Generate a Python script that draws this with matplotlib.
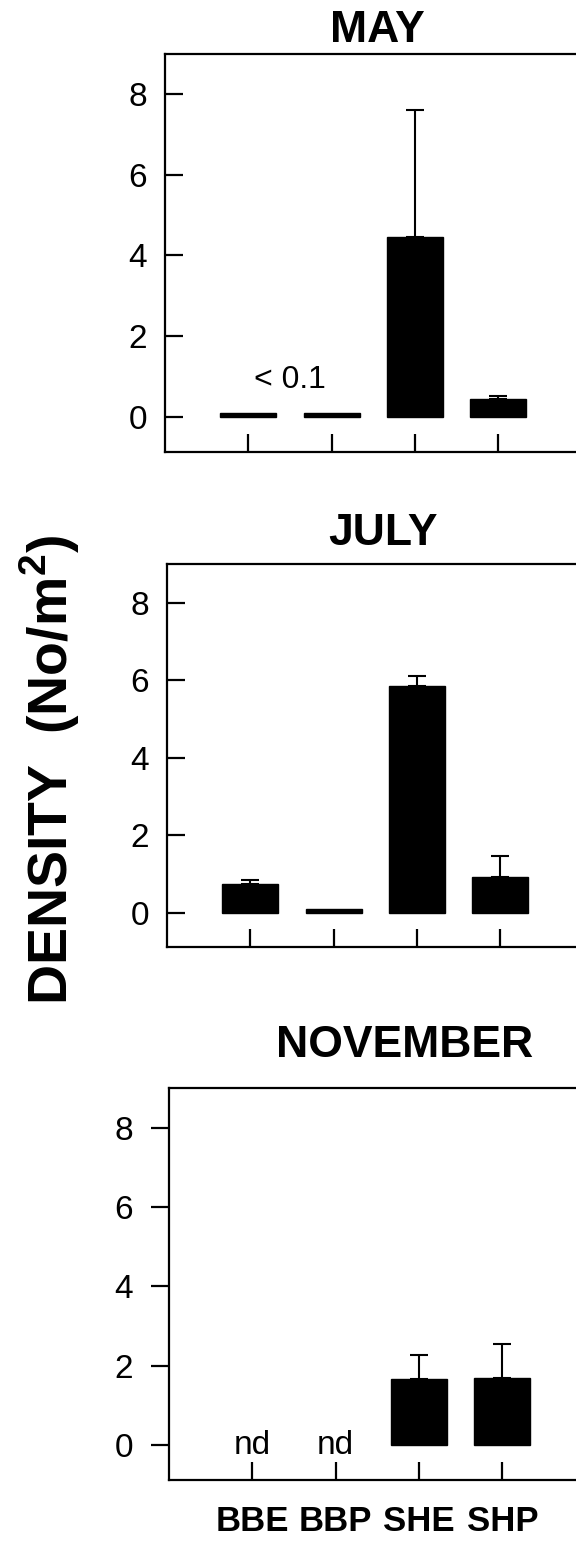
import numpy as np
import matplotlib
matplotlib.use("Agg")
import matplotlib.pyplot as plt

plt.rcParams['font.family'] = ['Liberation Sans', 'DejaVu Sans']
plt.rcParams['mathtext.fontset'] = 'custom'
plt.rcParams['mathtext.rm'] = 'Liberation Sans:bold'
plt.rcParams['mathtext.bf'] = 'Liberation Sans:bold'

# data
sites = ["BBE", "BBP", "SHE", "SHP"]
months = ["MAY", "JULY", "NOVEMBER"]

may_mean = [0.08, 0.08, 4.45, 0.43]
may_err = [0.0, 0.0, 3.15, 0.07]

july_mean = [0.75, 0.10, 5.85, 0.92]
july_err = [0.09, 0.0, 0.25, 0.54]

nov_mean = [np.nan, np.nan, 1.66, 1.69]
nov_err = [0.0, 0.0, 0.62, 0.85]

yticks = [0, 2, 4, 6, 8]

W, H = 576, 1543
fig = plt.figure(figsize=(W / 100, H / 100), dpi=100)


def px_axes(left, top, bottom, width=425):
    return [left / W, 1 - bottom / H, width / W, (bottom - top) / H]


# (left, top, bottom) in pixels, title x (axes frac), title gap px, ytick dir
panels = [
    ((165, 54, 452), 0.50, 12, "in"),
    ((167, 564, 947), 0.508, 19, "in"),
    ((169, 1088, 1480), 0.555, 31, "out"),
]
means = [may_mean, july_mean, nov_mean]
errs = [may_err, july_err, nov_err]

x = np.arange(len(sites))
axes = []
for i, ((l, t, b), tx, gap, ydir) in enumerate(panels):
    ax = fig.add_axes(px_axes(l, t, b))
    axes.append(ax)
    m = np.array(means[i], dtype=float)
    e = np.array(errs[i], dtype=float)
    ok = ~np.isnan(m)
    ax.bar(x[ok], m[ok], width=0.67, color="black", edgecolor="black")
    has_err = ok & (e > 0)
    ax.errorbar(x[has_err], m[has_err],
                yerr=[np.zeros(has_err.sum()), e[has_err]],
                fmt="none", ecolor="black", elinewidth=1.5,
                capsize=6.5, capthick=1.5)
    ax.set_xlim(-1, 4.1)
    ax.set_ylim(-0.88, 9.0)
    ax.set_xticks(x)
    ax.set_yticks(yticks)
    ax.tick_params(axis="x", direction="in", length=13, width=1.6,
                   labelsize=25, pad=18)
    ax.tick_params(axis="y", direction=ydir, length=13, width=1.6,
                   labelsize=24, pad=13)
    for s in ax.spines.values():
        s.set_linewidth(1.6)
    ax.spines["right"].set_visible(False)
    ax.set_title(months[i], fontsize=32, fontweight="bold",
                 x=tx, y=1 + gap / (b - t), pad=0)
    if i < 2:
        ax.set_xticklabels([])
    else:
        ax.set_xticklabels(sites, fontweight="bold")

axes[0].text(0.5, 0.7, "< 0.1", ha="center", va="baseline", fontsize=23)
for k in range(2):
    axes[2].text(x[k], -0.23, "nd", ha="center", va="baseline", fontsize=24)

fig.text(50 / W, 1 - 770 / H, r"DENSITY  (No/m$^{2}$)", rotation=90,
         ha="center", va="center", fontsize=40, fontweight="bold")

fig.savefig("out.png", dpi=100)
